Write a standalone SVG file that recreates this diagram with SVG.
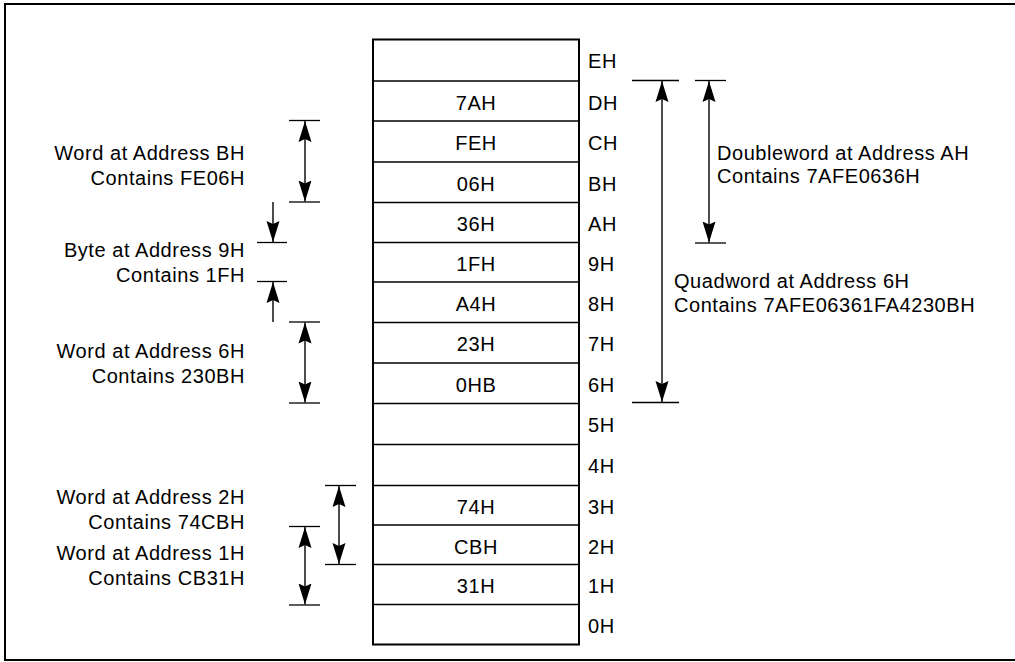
<svg xmlns="http://www.w3.org/2000/svg" width="1015" height="662" viewBox="0 0 1015 662">
  <style>
    text { font-family: "Liberation Sans", Arial, Helvetica, sans-serif; font-size: 20px; letter-spacing: 0.55px; fill: #000; }
    .val { text-anchor: middle; }
    .lbl { text-anchor: end; }
    .frame { fill: none; stroke: #000; stroke-width: 2; }
    .tbl { fill: none; stroke: #000; stroke-width: 2; }
    .tick { stroke: #000; stroke-width: 1.3; fill: none; }
    .arr { stroke: #000; stroke-width: 1.4; fill: none; }
    .both { marker-start: url(#ah); marker-end: url(#ah); }
    .one { marker-end: url(#ah); }
  </style>
  <defs>
    <marker id="ah" markerUnits="userSpaceOnUse" markerWidth="22" markerHeight="14" refX="21" refY="7" orient="auto-start-reverse" viewBox="0 0 22 14">
      <path d="M0,0.5 L21,7 L0,13.5 L3,7 z" fill="#000"/>
    </marker>
  </defs>

  <rect class="frame" x="5" y="4" width="1020" height="656"/>

  <g id="memory">
    <rect class="tbl" x="373" y="39.5" width="206" height="605"/>
    <g class="tick">
      <line x1="373" y1="81" x2="579" y2="81"/>
      <line x1="373" y1="121" x2="579" y2="121"/>
      <line x1="373" y1="162" x2="579" y2="162"/>
      <line x1="373" y1="202.5" x2="579" y2="202.5"/>
      <line x1="373" y1="242.5" x2="579" y2="242.5"/>
      <line x1="373" y1="282" x2="579" y2="282"/>
      <line x1="373" y1="322.5" x2="579" y2="322.5"/>
      <line x1="373" y1="363" x2="579" y2="363"/>
      <line x1="373" y1="403.5" x2="579" y2="403.5"/>
      <line x1="373" y1="444.5" x2="579" y2="444.5"/>
      <line x1="373" y1="485.5" x2="579" y2="485.5"/>
      <line x1="373" y1="525" x2="579" y2="525"/>
      <line x1="373" y1="564.5" x2="579" y2="564.5"/>
      <line x1="373" y1="604.5" x2="579" y2="604.5"/>
    </g>
    <text class="val" x="476" y="109.5">7AH</text>
    <text class="val" x="476" y="149.5">FEH</text>
    <text class="val" x="476" y="190.5">06H</text>
    <text class="val" x="476" y="231">36H</text>
    <text class="val" x="476" y="271">1FH</text>
    <text class="val" x="476" y="310.5">A4H</text>
    <text class="val" x="476" y="351">23H</text>
    <text class="val" x="476" y="391.5">0HB</text>
    <text class="val" x="476" y="514">74H</text>
    <text class="val" x="476" y="553.5">CBH</text>
    <text class="val" x="476" y="593">31H</text>
  </g>

  <g id="addresses">
    <text x="588" y="68">EH</text>
    <text x="588" y="109.5">DH</text>
    <text x="588" y="149.5">CH</text>
    <text x="588" y="190.5">BH</text>
    <text x="588" y="231">AH</text>
    <text x="588" y="271">9H</text>
    <text x="588" y="310.5">8H</text>
    <text x="588" y="351">7H</text>
    <text x="588" y="391.5">6H</text>
    <text x="588" y="432">5H</text>
    <text x="588" y="473">4H</text>
    <text x="588" y="514">3H</text>
    <text x="588" y="553.5">2H</text>
    <text x="588" y="593">1H</text>
    <text x="588" y="633">0H</text>
  </g>

  <g id="word-bh">
    <text class="lbl" x="245" y="160">Word at Address BH</text>
    <text class="lbl" x="245" y="185">Contains FE06H</text>
  </g>
  <g id="byte-9h">
    <text class="lbl" x="245" y="257">Byte at Address 9H</text>
    <text class="lbl" x="245" y="282">Contains 1FH</text>
  </g>
  <g id="word-6h">
    <text class="lbl" x="245" y="357.5">Word at Address 6H</text>
    <text class="lbl" x="245" y="382.5">Contains 230BH</text>
  </g>
  <g id="word-2h">
    <text class="lbl" x="245" y="504">Word at Address 2H</text>
    <text class="lbl" x="245" y="528.5">Contains 74CBH</text>
  </g>
  <g id="word-1h">
    <text class="lbl" x="245" y="560">Word at Address 1H</text>
    <text class="lbl" x="245" y="584.5">Contains CB31H</text>
  </g>
  <g id="doubleword-ah">
    <text x="717" y="160">Doubleword at Address AH</text>
    <text x="717" y="183">Contains 7AFE0636H</text>
  </g>
  <g id="quadword-6h">
    <text x="674" y="288">Quadword at Address 6H</text>
    <text x="674" y="312">Contains 7AFE06361FA4230BH</text>
  </g>

  <g id="connectors">
    <g class="tick">
      <line x1="289" y1="120.5" x2="320" y2="120.5"/>
      <line x1="289" y1="202" x2="320" y2="202"/>
      <line x1="257" y1="242.5" x2="287" y2="242.5"/>
      <line x1="257" y1="281.5" x2="287" y2="281.5"/>
      <line x1="289" y1="322" x2="320" y2="322"/>
      <line x1="289" y1="403" x2="320" y2="403"/>
      <line x1="325" y1="485.5" x2="356" y2="485.5"/>
      <line x1="325" y1="564.5" x2="356" y2="564.5"/>
      <line x1="289" y1="526.5" x2="320" y2="526.5"/>
      <line x1="289" y1="605" x2="320" y2="605"/>
      <line x1="632" y1="80.5" x2="679" y2="80.5"/>
      <line x1="632" y1="402.5" x2="679" y2="402.5"/>
      <line x1="695" y1="80.5" x2="726" y2="80.5"/>
      <line x1="695" y1="243" x2="726" y2="243"/>
    </g>
    <line class="arr both" x1="305" y1="121" x2="305" y2="201.5"/>
    <line class="arr one" x1="273" y1="202" x2="273" y2="242"/>
    <line class="arr one" x1="273" y1="322" x2="273" y2="282"/>
    <line class="arr both" x1="305" y1="322.5" x2="305" y2="402.5"/>
    <line class="arr both" x1="339" y1="486" x2="339" y2="564"/>
    <line class="arr both" x1="305" y1="527" x2="305" y2="604.5"/>
    <line class="arr both" x1="662" y1="81" x2="662" y2="402"/>
    <line class="arr both" x1="709" y1="81" x2="709" y2="242.5"/>
  </g>
</svg>
